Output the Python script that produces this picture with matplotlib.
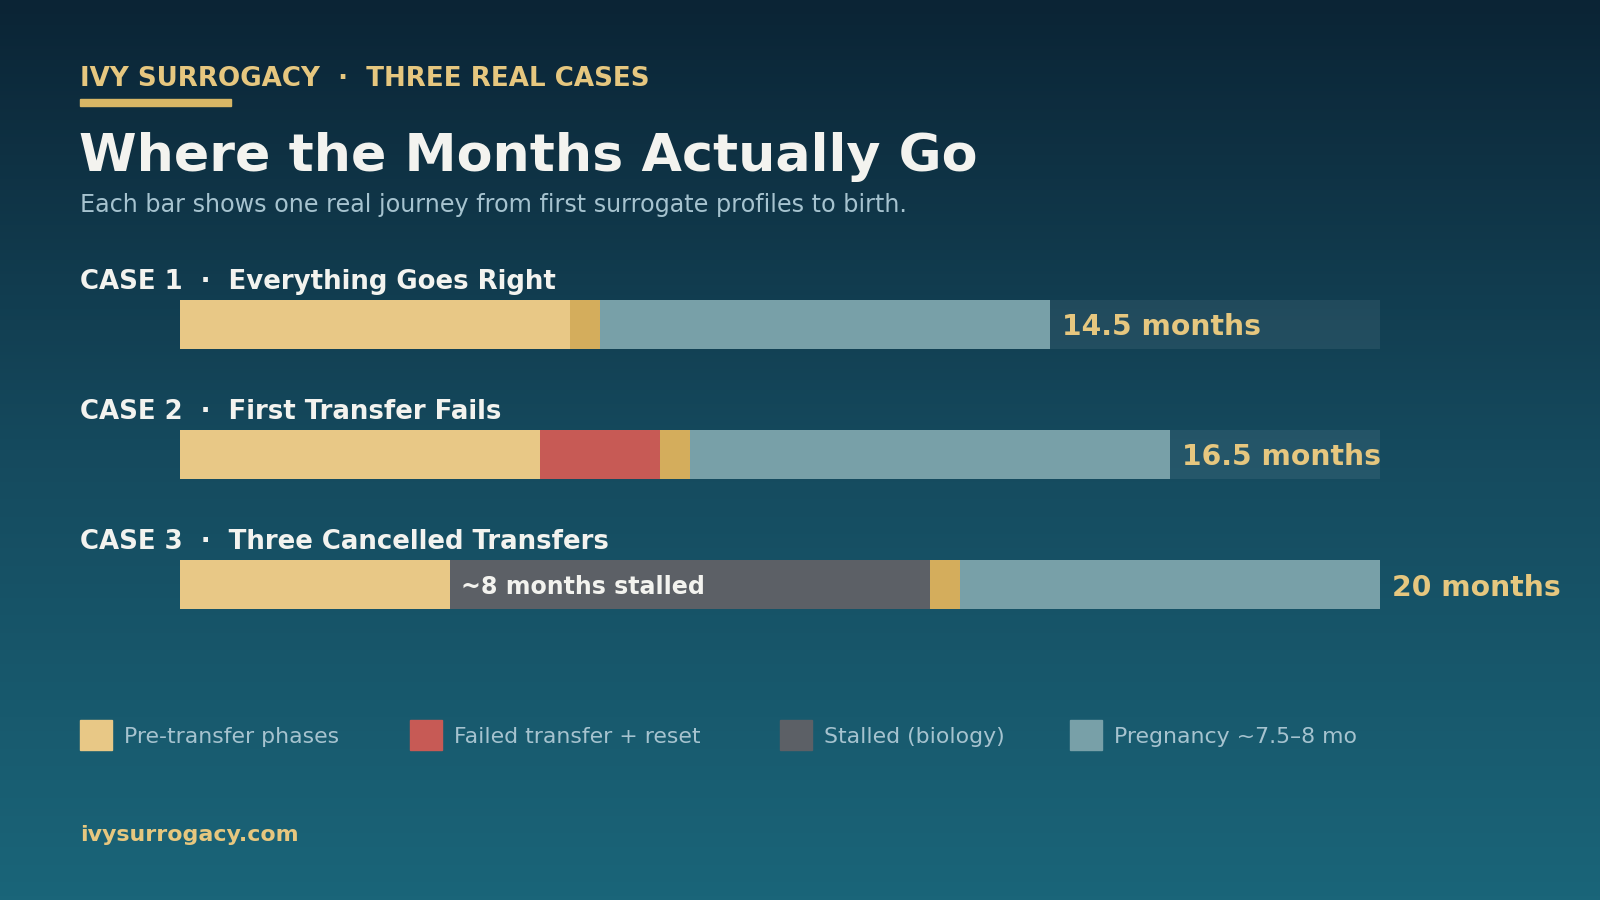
import numpy as np
import matplotlib
matplotlib.use("Agg")
import matplotlib.pyplot as plt
from matplotlib.colors import LinearSegmentedColormap
from matplotlib.patches import Rectangle

# ---------------- data ----------------
case_labels = ["CASE 1  ·  Everything Goes Right",
               "CASE 2  ·  First Transfer Fails",
               "CASE 3  ·  Three Cancelled Transfers"]
pre_transfer = [6.5, 6.0, 4.5]
failed_reset = [0.0, 2.0, 0.0]
stalled = [0.0, 0.0, 8.0]
transfer = [0.5, 0.5, 0.5]
pregnancy = [7.5, 8.0, 7.0]
total_labels = ["14.5 months", "16.5 months", "20 months"]
stalled_note = "~8 months stalled"
scale_max = 20
legend_labels = ["Pre-transfer phases", "Failed transfer + reset",
                 "Stalled (biology)", "Pregnancy ~7.5–8 mo"]

# ---------------- colours ----------------
C_PRE = "#e8c886"
C_TRANSFER = "#d4ad5c"
C_FAIL = "#c75a55"
C_STALL = "#5c6066"
C_PREG = "#78a0a8"
C_GOLD = "#e6c77f"
C_WHITE = "#f3f3ef"
C_SUB = "#a6c3cf"

W, H = 1600, 900
fig = plt.figure(figsize=(16, 9), dpi=100)

# background gradient
bg = fig.add_axes([0, 0, 1, 1], zorder=0)
cmap = LinearSegmentedColormap.from_list("bg", ["#0b2435", "#154a5e", "#1a6579"])
grad = np.linspace(0, 1, 256).reshape(-1, 1)
bg.imshow(grad, aspect="auto", cmap=cmap, extent=[0, 1, 0, 1], origin="upper")
bg.set_axis_off()


def fx(x):
    return x / W


def fy(y):
    return 1 - y / H


# header
fig.text(fx(80), fy(86), "IVY SURROGACY  ·  THREE REAL CASES", color=C_GOLD,
         fontsize=18.8, fontweight="bold", va="baseline", ha="left", zorder=5)
fig.patches.append(Rectangle((fx(80), fy(106)), fx(151), 7 / H,
                             transform=fig.transFigure, color="#d8b665", zorder=5))
fig.text(fx(79), fy(171), "Where the Months Actually Go", color=C_WHITE,
         fontsize=37.6, fontweight="bold", va="baseline", ha="left", zorder=5)
fig.text(fx(80), fy(212), "Each bar shows one real journey from first surrogate profiles to birth.",
         color=C_SUB, fontsize=17.2, va="baseline", ha="left", zorder=5)

# bars axes: x 180..1380 px, bars centred at 324.5, 454.5, 584.5 px
spacing = 130.0
bar_px = 49.0
top_px = 300.0
n = len(case_labels)
ax_h_px = (n - 1) * spacing + bar_px
ax = fig.add_axes([fx(180), fy(top_px + ax_h_px), fx(1200), ax_h_px / H], zorder=2)
ax.set_xlim(0, scale_max)
pad = (bar_px / 2) / spacing
ax.set_ylim(n - 1 + pad, -pad)
ax.set_axis_off()
ax.patch.set_alpha(0)

h = bar_px / spacing
y = np.arange(n)
ax.barh(y, [scale_max] * n, height=h, color="white", alpha=0.07, linewidth=0)
left = np.zeros(n)
for vals, col in [(pre_transfer, C_PRE), (failed_reset, C_FAIL), (stalled, C_STALL),
                  (transfer, C_TRANSFER), (pregnancy, C_PREG)]:
    vals = np.array(vals, dtype=float)
    ax.barh(y, vals, left=left, height=h, color=col, linewidth=0)
    left = left + vals
totals = left

for i in range(n):
    ax.text(totals[i] + 0.2, i, total_labels[i], color=C_GOLD, fontsize=20.3,
            fontweight="bold", va="center_baseline", ha="left", clip_on=False)
    if stalled[i] > 0:
        x0 = pre_transfer[i] + failed_reset[i]
        ax.text(x0 + 0.18, i, stalled_note, color=C_WHITE, fontsize=17.1,
                fontweight="bold", va="center_baseline", ha="left")

# case labels
case_base_px = [289, 419, 549]
for lab, yb in zip(case_labels, case_base_px):
    fig.text(fx(80), fy(yb), lab, color=C_WHITE, fontsize=18.7, fontweight="bold",
             va="baseline", ha="left", zorder=5)

# legend
leg_colors = [C_PRE, C_FAIL, C_STALL, C_PREG]
leg_x = [80, 410, 780, 1070]
for lx, col, lab in zip(leg_x, leg_colors, legend_labels):
    fig.patches.append(Rectangle((fx(lx), fy(750)), fx(32), 30 / H,
                                 transform=fig.transFigure, color=col, zorder=5))
    fig.text(fx(lx + 44), fy(743), lab, color=C_SUB, fontsize=15.8,
             va="baseline", ha="left", zorder=5)

# footer
fig.text(fx(80), fy(841), "ivysurrogacy.com", color=C_GOLD, fontsize=15.9,
         fontweight="bold", va="baseline", ha="left", zorder=5)

fig.savefig("out.png", dpi=100)
